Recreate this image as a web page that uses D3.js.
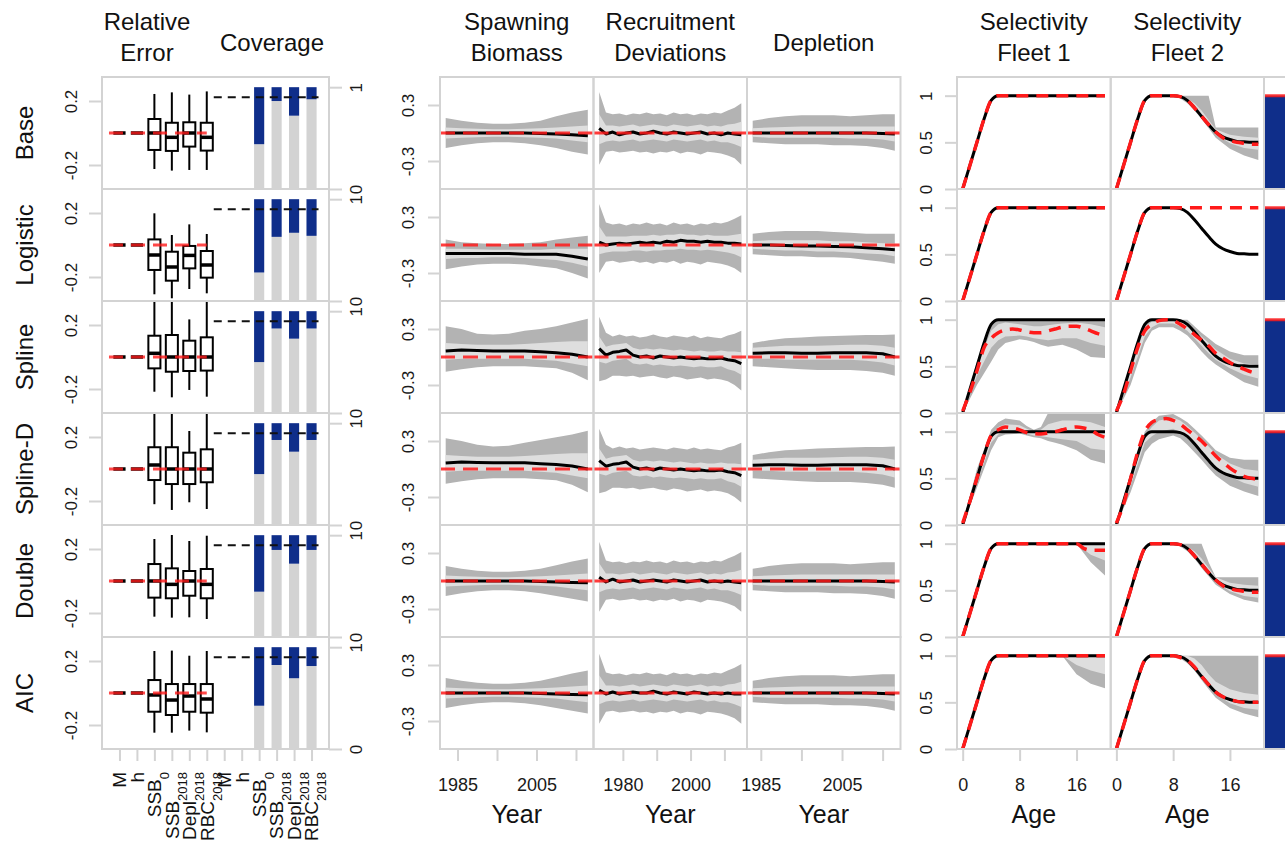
<!DOCTYPE html>
<html>
<head>
<meta charset="utf-8">
<script src="https://cdn.jsdelivr.net/npm/d3@7"></script>
<style>
body { margin: 0; background: #fff; }
svg { display: block; font-family: "Liberation Sans", Arial, sans-serif; }
</style>
</head>
<body>
<div id="chart"></div>
<script>
// ---- data ----
const rowNames = ["Base", "Logistic", "Spline", "Spline-D", "Double", "AIC"];
const catLabels = [["M",""],["h",""],["SSB","0"],["SSB","2018"],["Depl","2018"],["RBC","2018"],
                   ["M",""],["h",""],["SSB","0"],["SSB","2018"],["Depl","2018"],["RBC","2018"]];

// boxplot stats [whiskerLo, q1, median, q3, whiskerHi] for SSB0, SSB2018, Depl2018, RBC2018
const boxStats = [
  [[-0.225,-0.106,0,0.0875,0.244],[-0.235,-0.112,-0.027,0.064,0.254],[-0.231,-0.085,0,0.067,0.24],[-0.231,-0.11,-0.027,0.064,0.26]],
  [[-0.308,-0.156,-0.0625,0.035,0.198],[-0.333,-0.223,-0.1375,-0.042,0.0625],[-0.275,-0.146,-0.065,-0.006,0.129],[-0.302,-0.204,-0.125,-0.0375,0.069]],
  [[-0.217,-0.071,0.023,0.133,0.4],[-0.252,-0.092,0,0.1375,0.4],[-0.206,-0.0875,0,0.102,0.235],[-0.248,-0.085,0,0.123,0.4]],
  [[-0.22,-0.069,0.025,0.136,0.4],[-0.256,-0.094,0,0.136,0.4],[-0.208,-0.094,0,0.102,0.2375],[-0.25,-0.083,0,0.123,0.4]],
  [[-0.223,-0.104,0,0.106,0.2625],[-0.229,-0.108,-0.021,0.079,0.2875],[-0.227,-0.092,0,0.0625,0.25],[-0.2375,-0.108,-0.021,0.075,0.283]],
  [[-0.248,-0.117,-0.0125,0.081,0.2625],[-0.248,-0.1375,-0.044,0.056,0.265],[-0.235,-0.117,-0.019,0.056,0.233],[-0.246,-0.123,-0.0375,0.056,0.2625]]
];
// coverage (grey part) for SSB0, SSB2018, Depl2018, RBC2018
const coverage = [
  [0.44, 0.864, 0.72, 0.881],
  [0.28, 0.63, 0.67, 0.64],
  [0.50, 0.83, 0.73, 0.83],
  [0.50, 0.835, 0.72, 0.835],
  [0.445, 0.855, 0.72, 0.855],
  [0.425, 0.825, 0.695, 0.815]
];
const coverageTarget = 0.9;
const extraCoverage = [1, 1, 1, 1, 1, 1];

// spawning biomass relative error
const ssbYears = [1982, 1986, 1990, 1994, 1998, 2002, 2006, 2010, 2014, 2018];
const ssbMed = [
  [0,0,0,0,0,0,-0.005,-0.01,-0.02,-0.03],
  [-0.09,-0.09,-0.09,-0.09,-0.09,-0.1,-0.1,-0.1,-0.12,-0.15],
  [0.064,0.075,0.07,0.065,0.065,0.065,0.055,0.046,0.03,0.0],
  [0.065,0.075,0.07,0.066,0.066,0.066,0.057,0.048,0.032,0.0],
  [0,0,0,0,0,0,-0.005,-0.01,-0.015,-0.02],
  [0,0,0,0,0,0,-0.005,-0.01,-0.015,-0.02]
];
const ssbHi95 = [
  [0.16,0.13,0.11,0.10,0.10,0.11,0.13,0.18,0.22,0.25],
  [0.06,0.03,0.02,0.01,0.01,0.02,0.03,0.06,0.08,0.1],
  [0.33,0.30,0.25,0.24,0.25,0.28,0.30,0.33,0.37,0.41],
  [0.33,0.30,0.26,0.24,0.25,0.28,0.31,0.34,0.37,0.41],
  [0.16,0.13,0.11,0.10,0.10,0.11,0.13,0.17,0.21,0.24],
  [0.16,0.13,0.11,0.10,0.10,0.11,0.13,0.17,0.21,0.24]
];
const ssbLo95 = [
  [-0.16,-0.13,-0.11,-0.10,-0.10,-0.11,-0.13,-0.16,-0.20,-0.23],
  [-0.26,-0.23,-0.21,-0.2,-0.2,-0.21,-0.23,-0.25,-0.3,-0.36],
  [-0.157,-0.13,-0.11,-0.10,-0.10,-0.10,-0.11,-0.12,-0.17,-0.25],
  [-0.157,-0.13,-0.11,-0.10,-0.10,-0.10,-0.11,-0.12,-0.17,-0.25],
  [-0.16,-0.13,-0.11,-0.10,-0.10,-0.11,-0.13,-0.16,-0.19,-0.22],
  [-0.16,-0.13,-0.11,-0.10,-0.10,-0.11,-0.13,-0.16,-0.19,-0.22]
];
const ssbHi50 = [
  [0.06,0.05,0.045,0.04,0.04,0.045,0.05,0.06,0.07,0.08],
  [-0.04,-0.04,-0.045,-0.05,-0.05,-0.05,-0.05,-0.04,-0.04,-0.04],
  [0.15,0.14,0.13,0.13,0.13,0.14,0.15,0.16,0.17,0.17],
  [0.15,0.14,0.13,0.13,0.13,0.14,0.15,0.16,0.17,0.17],
  [0.06,0.05,0.045,0.04,0.04,0.045,0.05,0.06,0.07,0.08],
  [0.06,0.05,0.045,0.04,0.04,0.045,0.05,0.06,0.07,0.08]
];
const ssbLo50 = [
  [-0.06,-0.05,-0.045,-0.04,-0.04,-0.045,-0.05,-0.06,-0.08,-0.1],
  [-0.15,-0.14,-0.14,-0.13,-0.13,-0.14,-0.15,-0.16,-0.19,-0.23],
  [-0.03,-0.02,-0.02,-0.02,-0.02,-0.02,-0.03,-0.04,-0.07,-0.1],
  [-0.03,-0.02,-0.02,-0.02,-0.02,-0.02,-0.03,-0.04,-0.07,-0.1],
  [-0.06,-0.05,-0.045,-0.04,-0.04,-0.045,-0.05,-0.06,-0.08,-0.1],
  [-0.06,-0.05,-0.045,-0.04,-0.04,-0.045,-0.05,-0.06,-0.08,-0.1]
];

// recruitment deviations
const recYears = [1973,1975,1977,1979,1981,1983,1985,1987,1989,1991,1993,1995,1997,1999,2001,2003,2005,2007,2009,2011,2013,2015];
const recMed = [
  [0.05,-0.01,0.01,-0.02,0.0,0.01,-0.01,0.0,0.02,0.0,-0.01,0.01,0.0,-0.01,0.0,0.01,-0.01,0.0,-0.02,0.0,-0.01,-0.02],
  [0.03,0.0,0.01,0.02,0.01,0.02,0.03,0.02,0.03,0.02,0.04,0.03,0.05,0.04,0.04,0.03,0.04,0.03,0.03,0.02,0.02,0.01],
  [0.09,0.02,0.05,0.06,0.075,0.02,0.0,0.01,-0.01,0.01,0.0,-0.01,0.0,-0.01,-0.02,-0.01,-0.02,-0.02,-0.01,-0.03,-0.04,-0.07],
  [0.09,0.03,0.05,0.06,0.075,0.02,0.0,0.01,-0.01,0.01,0.0,-0.01,0.0,-0.01,-0.02,-0.01,-0.02,-0.02,-0.01,-0.03,-0.04,-0.07],
  [0.04,-0.01,0.02,-0.01,0.0,0.01,-0.01,0.0,0.01,0.0,-0.01,0.01,0.0,-0.01,0.0,0.01,-0.01,0.0,-0.01,0.0,-0.01,-0.02],
  [0.03,-0.01,0.01,-0.01,0.0,0.01,0.0,0.0,0.02,0.0,-0.01,0.01,0.0,-0.01,0.01,0.0,-0.01,0.0,-0.01,0.0,-0.01,-0.01]
];
const recHi95 = [
  [0.44,0.22,0.2,0.21,0.19,0.21,0.2,0.22,0.2,0.21,0.19,0.22,0.2,0.21,0.19,0.21,0.2,0.22,0.21,0.24,0.27,0.32],
  [0.44,0.24,0.22,0.23,0.21,0.23,0.22,0.24,0.22,0.23,0.21,0.24,0.22,0.23,0.21,0.23,0.22,0.24,0.23,0.25,0.28,0.32],
  [0.43,0.26,0.22,0.24,0.22,0.23,0.21,0.22,0.24,0.22,0.21,0.23,0.22,0.21,0.23,0.2,0.22,0.21,0.2,0.23,0.25,0.28],
  [0.43,0.26,0.22,0.24,0.22,0.23,0.21,0.22,0.23,0.22,0.21,0.23,0.22,0.21,0.23,0.21,0.22,0.21,0.2,0.23,0.25,0.28],
  [0.42,0.22,0.2,0.21,0.19,0.21,0.2,0.22,0.2,0.21,0.19,0.22,0.2,0.21,0.19,0.21,0.2,0.22,0.21,0.24,0.27,0.31],
  [0.42,0.22,0.2,0.21,0.19,0.21,0.2,0.22,0.2,0.21,0.19,0.22,0.2,0.21,0.19,0.21,0.2,0.22,0.21,0.24,0.27,0.31]
];
const recLo95 = [
  [-0.34,-0.2,-0.19,-0.21,-0.2,-0.19,-0.21,-0.2,-0.22,-0.2,-0.21,-0.19,-0.22,-0.2,-0.21,-0.23,-0.2,-0.21,-0.22,-0.24,-0.27,-0.34],
  [-0.3,-0.18,-0.17,-0.19,-0.18,-0.17,-0.19,-0.18,-0.2,-0.18,-0.19,-0.17,-0.2,-0.18,-0.19,-0.21,-0.18,-0.19,-0.2,-0.22,-0.25,-0.3],
  [-0.26,-0.24,-0.2,-0.2,-0.21,-0.2,-0.22,-0.21,-0.2,-0.22,-0.23,-0.21,-0.22,-0.24,-0.23,-0.22,-0.24,-0.23,-0.24,-0.26,-0.3,-0.36],
  [-0.26,-0.24,-0.2,-0.2,-0.21,-0.2,-0.22,-0.21,-0.2,-0.22,-0.23,-0.21,-0.22,-0.24,-0.23,-0.22,-0.24,-0.23,-0.24,-0.26,-0.3,-0.36],
  [-0.33,-0.2,-0.19,-0.21,-0.2,-0.19,-0.21,-0.2,-0.22,-0.2,-0.21,-0.19,-0.22,-0.2,-0.21,-0.23,-0.2,-0.21,-0.22,-0.24,-0.27,-0.33],
  [-0.33,-0.2,-0.19,-0.21,-0.2,-0.19,-0.21,-0.2,-0.22,-0.2,-0.21,-0.19,-0.22,-0.2,-0.21,-0.23,-0.2,-0.21,-0.22,-0.24,-0.27,-0.33]
];
const recHi50 = [
  [0.2,0.08,0.08,0.07,0.08,0.09,0.07,0.08,0.09,0.08,0.07,0.09,0.08,0.07,0.08,0.09,0.07,0.08,0.07,0.09,0.1,0.12],
  [0.2,0.09,0.09,0.09,0.09,0.1,0.1,0.1,0.11,0.1,0.11,0.11,0.12,0.11,0.11,0.1,0.11,0.1,0.1,0.1,0.11,0.12],
  [0.22,0.11,0.13,0.14,0.15,0.1,0.08,0.09,0.08,0.09,0.08,0.07,0.08,0.07,0.06,0.07,0.06,0.06,0.07,0.06,0.06,0.05],
  [0.22,0.11,0.13,0.14,0.15,0.1,0.08,0.09,0.08,0.09,0.08,0.07,0.08,0.07,0.06,0.07,0.06,0.06,0.07,0.06,0.06,0.05],
  [0.19,0.08,0.08,0.07,0.08,0.09,0.07,0.08,0.09,0.08,0.07,0.09,0.08,0.07,0.08,0.09,0.07,0.08,0.07,0.09,0.1,0.12],
  [0.19,0.08,0.08,0.07,0.08,0.09,0.07,0.08,0.09,0.08,0.07,0.09,0.08,0.07,0.08,0.09,0.07,0.08,0.07,0.09,0.1,0.12]
];
const recLo50 = [
  [-0.12,-0.09,-0.08,-0.09,-0.08,-0.07,-0.09,-0.08,-0.07,-0.08,-0.09,-0.07,-0.08,-0.09,-0.08,-0.07,-0.09,-0.08,-0.1,-0.1,-0.12,-0.15],
  [-0.1,-0.08,-0.07,-0.07,-0.07,-0.06,-0.06,-0.07,-0.06,-0.06,-0.05,-0.05,-0.04,-0.05,-0.05,-0.06,-0.05,-0.06,-0.07,-0.08,-0.1,-0.13],
  [-0.05,-0.07,-0.04,-0.03,-0.02,-0.07,-0.08,-0.07,-0.09,-0.08,-0.09,-0.1,-0.09,-0.1,-0.11,-0.1,-0.11,-0.11,-0.1,-0.13,-0.15,-0.19],
  [-0.05,-0.07,-0.04,-0.03,-0.02,-0.07,-0.08,-0.07,-0.09,-0.08,-0.09,-0.1,-0.09,-0.1,-0.11,-0.1,-0.11,-0.11,-0.1,-0.13,-0.15,-0.19],
  [-0.12,-0.09,-0.08,-0.09,-0.08,-0.07,-0.09,-0.08,-0.07,-0.08,-0.09,-0.07,-0.08,-0.09,-0.08,-0.07,-0.09,-0.08,-0.1,-0.1,-0.12,-0.15],
  [-0.12,-0.09,-0.08,-0.09,-0.08,-0.07,-0.09,-0.08,-0.07,-0.08,-0.09,-0.07,-0.08,-0.09,-0.08,-0.07,-0.09,-0.08,-0.1,-0.1,-0.12,-0.15]
];

// depletion
const deplYears = [1983, 1987, 1991, 1995, 1999, 2003, 2007, 2011, 2015, 2018];
const deplMed = [
  [0,0,0,0,0,0,0,0,-0.005,-0.01],
  [0,0,-0.005,-0.01,-0.01,-0.015,-0.02,-0.03,-0.04,-0.05],
  [0.04,0.045,0.045,0.04,0.04,0.045,0.045,0.046,0.035,0.0],
  [0.04,0.045,0.045,0.04,0.04,0.045,0.045,0.046,0.035,0.0],
  [0,0,0,0,0,0,0,0,-0.005,-0.01],
  [0,0,0,0,0,0,0,0,-0.005,-0.01]
];
const deplHi95 = [
  [0.13,0.16,0.18,0.19,0.19,0.19,0.18,0.19,0.2,0.2],
  [0.12,0.14,0.15,0.15,0.15,0.14,0.13,0.12,0.12,0.12],
  [0.15,0.18,0.2,0.21,0.22,0.225,0.23,0.235,0.235,0.24],
  [0.15,0.18,0.2,0.21,0.22,0.225,0.23,0.235,0.235,0.24],
  [0.13,0.16,0.18,0.19,0.19,0.19,0.18,0.19,0.2,0.2],
  [0.13,0.16,0.18,0.19,0.19,0.19,0.18,0.19,0.2,0.2]
];
const deplLo95 = [
  [-0.1,-0.11,-0.12,-0.12,-0.12,-0.13,-0.13,-0.14,-0.16,-0.19],
  [-0.1,-0.11,-0.12,-0.12,-0.13,-0.13,-0.14,-0.16,-0.18,-0.2],
  [-0.1,-0.11,-0.12,-0.13,-0.14,-0.14,-0.14,-0.15,-0.17,-0.2],
  [-0.1,-0.11,-0.12,-0.13,-0.14,-0.14,-0.14,-0.15,-0.17,-0.2],
  [-0.1,-0.11,-0.12,-0.12,-0.12,-0.13,-0.13,-0.14,-0.16,-0.19],
  [-0.1,-0.11,-0.12,-0.12,-0.12,-0.13,-0.13,-0.14,-0.16,-0.19]
];
const deplHi50 = [
  [0.05,0.06,0.065,0.07,0.07,0.07,0.07,0.07,0.07,0.07],
  [0.04,0.05,0.05,0.05,0.05,0.04,0.04,0.03,0.02,0.02],
  [0.1,0.11,0.12,0.12,0.12,0.125,0.13,0.13,0.12,0.1],
  [0.1,0.11,0.12,0.12,0.12,0.125,0.13,0.13,0.12,0.1],
  [0.05,0.06,0.065,0.07,0.07,0.07,0.07,0.07,0.07,0.07],
  [0.05,0.06,0.065,0.07,0.07,0.07,0.07,0.07,0.07,0.07]
];
const deplLo50 = [
  [-0.04,-0.05,-0.05,-0.05,-0.05,-0.05,-0.06,-0.06,-0.07,-0.09],
  [-0.04,-0.05,-0.06,-0.06,-0.07,-0.07,-0.08,-0.09,-0.1,-0.12],
  [-0.02,-0.02,-0.03,-0.03,-0.03,-0.03,-0.03,-0.04,-0.06,-0.09],
  [-0.02,-0.02,-0.03,-0.03,-0.03,-0.03,-0.03,-0.04,-0.06,-0.09],
  [-0.04,-0.05,-0.05,-0.05,-0.05,-0.05,-0.06,-0.06,-0.07,-0.09],
  [-0.04,-0.05,-0.05,-0.05,-0.05,-0.05,-0.06,-0.06,-0.07,-0.09]
];

// selectivity
const ages = [0,1,2,3,4,5,6,7,8,9,10,11,12,13,14,15,16,17,18,19,20];
const sel1True = [0,0.25,0.5,0.75,0.95,1,1,1,1,1,1,1,1,1,1,1,1,1,1,1,1];
const sel2True = [0,0.25,0.5,0.75,0.95,1,1,1,1,0.99,0.95,0.87,0.78,0.69,0.61,0.56,0.53,0.51,0.505,0.5,0.5];
const sel1Med = [
  [0,0.25,0.5,0.75,0.95,1,1,1,1,1,1,1,1,1,1,1,1,1,1,1,1],
  [0,0.25,0.5,0.75,0.95,1,1,1,1,1,1,1,1,1,1,1,1,1,1,1,1],
  [0.02,0.22,0.45,0.7,0.8,0.86,0.89,0.9,0.89,0.87,0.86,0.86,0.88,0.9,0.92,0.93,0.93,0.91,0.88,0.85,0.83],
  [0.02,0.25,0.5,0.75,0.96,1.02,1.05,1.04,1.02,0.99,0.98,0.975,0.985,1.0,1.02,1.04,1.05,1.04,1.02,0.97,0.94],
  [0,0.25,0.5,0.75,0.95,1,1,1,1,1,1,1,1,1,1,1,1,0.95,0.93,0.93,0.93],
  [0,0.25,0.5,0.75,0.95,1,1,1,1,1,1,1,1,1,1,1,1,1,1,1,1]
];
const sel2Med = [
  [0,0.25,0.5,0.75,0.95,1,1,1,1,0.99,0.95,0.87,0.78,0.69,0.61,0.55,0.52,0.5,0.49,0.48,0.48],
  [0,0.25,0.5,0.75,0.95,1,1,1,1,1,1,1,1,1,1,1,1,1,1,1,1],
  [0.02,0.2,0.45,0.7,0.88,0.95,0.99,1.0,0.99,0.95,0.9,0.84,0.78,0.72,0.64,0.59,0.54,0.5,0.47,0.44,0.42],
  [0.02,0.22,0.5,0.78,1.0,1.1,1.13,1.14,1.12,1.08,1.02,0.96,0.9,0.82,0.74,0.67,0.61,0.56,0.52,0.5,0.49],
  [0,0.25,0.5,0.75,0.95,1,1,1,1,0.99,0.95,0.87,0.78,0.69,0.61,0.55,0.52,0.5,0.49,0.48,0.48],
  [0,0.25,0.5,0.75,0.95,1,1,1,1,0.98,0.95,0.88,0.78,0.69,0.61,0.56,0.53,0.51,0.5,0.5,0.5]
];
// interval bands on a coarser age grid
const bandAges = [0,2,4,5,6,8,9,10,11,12,13,14,16,18,20];
const sel1Hi95 = [
  [0,0.5,0.96,1,1,1,1,1,1,1,1,1,1,1,1],
  [0,0.5,0.96,1,1,1,1,1,1,1,1,1,1,1,1],
  [0.02,0.55,0.95,1,1,1,1,1,1,1,1,1,1,1,1],
  [0.02,0.6,1.02,1.1,1.14,1.12,1.06,1.02,1.05,1.2,1.2,1.2,1.2,1.2,1.2],
  [0,0.5,0.96,1,1,1,1,1,1,1,1,1,1,1,1],
  [0,0.5,0.96,1,1,1,1,1,1,1,1,1,1,1,1]
];
const sel1Lo95 = [
  [0,0.5,0.93,1,1,1,1,1,1,1,1,1,1,1,1],
  [0,0.5,0.93,1,1,1,1,1,1,1,1,1,1,1,1],
  [0,0.3,0.55,0.68,0.75,0.79,0.78,0.76,0.73,0.71,0.72,0.73,0.68,0.6,0.59],
  [0,0.4,0.8,0.94,0.97,0.98,0.96,0.94,0.93,0.9,0.88,0.86,0.8,0.7,0.66],
  [0,0.5,0.93,1,1,1,1,1,1,1,1,1,1,0.8,0.66],
  [0,0.5,0.93,1,1,1,1,1,1,1,1,1,0.8,0.7,0.65]
];
const sel1Hi50 = [
  [0,0.5,0.95,1,1,1,1,1,1,1,1,1,1,1,1],
  [0,0.5,0.95,1,1,1,1,1,1,1,1,1,1,1,1],
  [0.01,0.5,0.88,0.95,0.97,0.95,0.94,0.93,0.93,0.94,0.95,0.96,0.97,0.95,0.92],
  [0.01,0.55,0.97,1.05,1.08,1.07,1.03,1.0,1.02,1.08,1.1,1.12,1.12,1.1,1.05],
  [0,0.5,0.95,1,1,1,1,1,1,1,1,1,1,1,1],
  [0,0.5,0.95,1,1,1,1,1,1,1,1,1,1,1,1]
];
const sel1Lo50 = [
  [0,0.5,0.95,1,1,1,1,1,1,1,1,1,1,1,1],
  [0,0.5,0.95,1,1,1,1,1,1,1,1,1,1,1,1],
  [0,0.4,0.7,0.78,0.82,0.83,0.82,0.8,0.79,0.78,0.79,0.8,0.8,0.75,0.72],
  [0,0.45,0.88,0.97,1.0,1.0,0.98,0.96,0.95,0.94,0.93,0.92,0.9,0.82,0.8],
  [0,0.5,0.95,1,1,1,1,1,1,1,1,1,1,0.88,0.82],
  [0,0.5,0.95,1,1,1,1,1,1,1,1,1,0.9,0.84,0.8]
];
const sel2Hi95 = [
  [0,0.5,0.96,1,1,1,1,1,1,1,1,0.66,0.66,0.66,0.66],
  [0,0.5,0.96,1,1,1,1,1,1,1,1,1,1,1,1],
  [0.02,0.5,0.95,1,1,1,1,1,0.93,0.86,0.8,0.74,0.66,0.62,0.62],
  [0.02,0.55,1.0,1.1,1.17,1.19,1.15,1.1,1.03,0.96,0.88,0.8,0.72,0.7,0.7],
  [0,0.5,0.96,1,1,1,1,1,1,1,0.8,0.64,0.64,0.64,0.64],
  [0,0.5,0.96,1,1,1,1,1,1,1,1,1,1,1,1]
];
const sel2Lo95 = [
  [0,0.5,0.93,1,1,1,0.97,0.92,0.84,0.75,0.65,0.55,0.43,0.36,0.31],
  [0,0.5,0.93,1,1,1,1,1,1,1,1,1,1,1,1],
  [0,0.3,0.75,0.88,0.92,0.92,0.88,0.83,0.75,0.66,0.58,0.52,0.42,0.33,0.28],
  [0,0.35,0.78,0.87,0.92,0.96,0.93,0.86,0.78,0.7,0.61,0.53,0.42,0.36,0.31],
  [0,0.5,0.93,1,1,1,0.97,0.92,0.84,0.74,0.65,0.56,0.46,0.4,0.37],
  [0,0.5,0.93,1,1,1,0.97,0.92,0.84,0.74,0.64,0.55,0.44,0.38,0.34]
];
const sel2Hi50 = [
  [0,0.5,0.95,1,1,1,1,0.97,0.92,0.84,0.74,0.64,0.58,0.56,0.55],
  [0,0.5,0.95,1,1,1,1,1,1,1,1,1,1,1,1],
  [0.01,0.45,0.92,0.98,1,1,0.99,0.95,0.89,0.82,0.75,0.68,0.58,0.53,0.52],
  [0.01,0.5,0.95,1.05,1.12,1.15,1.12,1.06,0.99,0.92,0.84,0.76,0.66,0.6,0.58],
  [0,0.5,0.95,1,1,1,1,0.97,0.92,0.84,0.74,0.64,0.58,0.56,0.55],
  [0,0.5,0.95,1,1,1,1,1,0.97,0.9,0.8,0.72,0.64,0.6,0.58]
];
const sel2Lo50 = [
  [0,0.5,0.95,1,1,1,0.98,0.94,0.87,0.78,0.69,0.59,0.49,0.44,0.42],
  [0,0.5,0.95,1,1,1,1,1,1,1,1,1,1,1,1],
  [0,0.38,0.82,0.92,0.96,0.96,0.93,0.88,0.8,0.72,0.64,0.57,0.48,0.41,0.37],
  [0,0.42,0.88,0.95,1.0,1.03,0.99,0.93,0.86,0.78,0.7,0.62,0.52,0.45,0.41],
  [0,0.5,0.95,1,1,1,0.98,0.94,0.87,0.78,0.69,0.59,0.49,0.44,0.42],
  [0,0.5,0.95,1,1,1,0.98,0.94,0.87,0.78,0.69,0.59,0.49,0.44,0.42]
];

// ---- layout ----
const W = 1285, H = 847;
const top0 = 77, rowH = 112, nRows = 6;
const bottom = top0 + rowH * nRows;
const frameCol = "#d3d3d3";
const darkBand = "#b3b3b3", lightBand = "#dedede";
const blue = "#0f2e8a", red = "#ff1a1a";
const leftX = [102, 329];
const midX = [440, 593.5, 747, 900.5];
const rightX = [957, 1110.7, 1264, 1417.3];

const svg = d3.select("#chart").append("svg").attr("width", W).attr("height", H);
svg.append("rect").attr("width", W).attr("height", H).attr("fill", "#fff");
const defs = svg.append("defs");
let clipN = 0;

function makePanel(x0, x1, y0, y1) {
  const id = "clip" + (clipN++);
  defs.append("clipPath").attr("id", id)
    .append("rect").attr("x", x0).attr("y", y0).attr("width", x1 - x0).attr("height", y1 - y0);
  const g = svg.append("g");
  const inner = g.append("g").attr("clip-path", `url(#${id})`);
  g.append("rect")
    .attr("x", x0).attr("y", y0).attr("width", x1 - x0).attr("height", y1 - y0)
    .attr("fill", "none").attr("stroke", frameCol).attr("stroke-width", 2);
  return inner;
}

function styleAxis(ax, size) {
  ax.select(".domain").remove();
  ax.attr("font-family", null).attr("font-size", size);
  ax.selectAll(".tick line").attr("stroke", frameCol).attr("stroke-width", 2);
  ax.selectAll(".tick text").attr("fill", "#1a1a1a");
}

function rotateTicks(ax, d) {
  ax.selectAll(".tick text")
    .attr("transform", "rotate(-90)")
    .attr("x", 0).attr("y", d).attr("dy", 0)
    .attr("text-anchor", "middle");
}

const catX = d3.scaleLinear().domain([0, 13]).range(leftX);
const ageX = [0, 1].map(i => d3.scaleLinear().domain([-0.8, 20.8]).range([rightX[i], rightX[i + 1]]));
const yearX = [
  d3.scaleLinear().domain([1980.56, 2019.44]).range([midX[0], midX[1]]),
  d3.scaleLinear().domain([1971.32, 2016.68]).range([midX[1], midX[2]]),
  d3.scaleLinear().domain([1981.6, 2019.4]).range([midX[2], midX[3]])
];
const midSeries = [
  { years: ssbYears, med: ssbMed, hi95: ssbHi95, lo95: ssbLo95, hi50: ssbHi50, lo50: ssbLo50 },
  { years: recYears, med: recMed, hi95: recHi95, lo95: recLo95, hi50: recHi50, lo50: recLo50 },
  { years: deplYears, med: deplMed, hi95: deplHi95, lo95: deplLo95, hi50: deplHi50, lo50: deplLo50 }
];
const selSeries = [
  { truth: sel1True, med: sel1Med, hi95: sel1Hi95, lo95: sel1Lo95, hi50: sel1Hi50, lo50: sel1Lo50 },
  { truth: sel2True, med: sel2Med, hi95: sel2Hi95, lo95: sel2Lo95, hi50: sel2Hi50, lo50: sel2Lo50 }
];

rowNames.forEach((name, r) => {
  const y0 = top0 + r * rowH, y1 = y0 + rowH;

  // ---- left group: relative error boxplots + coverage ----
  const relY = d3.scaleLinear().domain([-0.35, 0.35]).range([y1, y0]);
  const covY = d3.scaleLinear().domain([0, 1.1]).range([y1, y0]);
  const gl = makePanel(leftX[0], leftX[1], y0, y1);

  // coverage bars
  coverage[r].forEach((c, i) => {
    const cx = catX(9 + i), hw = catX(0.29) - catX(0);
    gl.append("rect").attr("x", cx - hw).attr("width", 2 * hw)
      .attr("y", covY(c)).attr("height", covY(0) - covY(c)).attr("fill", "#d3d3d3");
    gl.append("rect").attr("x", cx - hw).attr("width", 2 * hw)
      .attr("y", covY(1)).attr("height", covY(c) - covY(1)).attr("fill", blue);
  });
  gl.append("line")
    .attr("x1", catX(6.4)).attr("x2", catX(12.4))
    .attr("y1", covY(coverageTarget)).attr("y2", covY(coverageTarget))
    .attr("stroke", "#111").attr("stroke-width", 2).attr("stroke-dasharray", "8,6");

  // M and h are fixed: zero-width boxes
  [1, 2].forEach(c => {
    gl.append("line")
      .attr("x1", catX(c - 0.35)).attr("x2", catX(c + 0.35))
      .attr("y1", relY(0)).attr("y2", relY(0))
      .attr("stroke", "#000").attr("stroke-width", 3.5);
  });
  // boxplots
  boxStats[r].forEach((s, i) => {
    const cx = catX(3 + i), hw = catX(0.345) - catX(0);
    gl.append("line").attr("x1", cx).attr("x2", cx).attr("y1", relY(s[0])).attr("y2", relY(s[4]))
      .attr("stroke", "#000").attr("stroke-width", 2);
    gl.append("rect").attr("x", cx - hw).attr("width", 2 * hw)
      .attr("y", relY(s[3])).attr("height", relY(s[1]) - relY(s[3]))
      .attr("fill", "#fff").attr("stroke", "#000").attr("stroke-width", 2);
    gl.append("line").attr("x1", cx - hw).attr("x2", cx + hw).attr("y1", relY(s[2])).attr("y2", relY(s[2]))
      .attr("stroke", "#000").attr("stroke-width", 3.5);
  });
  gl.append("line")
    .attr("x1", catX(0.4)).attr("x2", catX(6.0)).attr("y1", relY(0)).attr("y2", relY(0))
    .attr("stroke", red).attr("stroke-opacity", 0.8).attr("stroke-width", 3).attr("stroke-dasharray", "14,8");

  const axL = svg.append("g").attr("transform", `translate(${leftX[0]},0)`)
    .call(d3.axisLeft(relY).tickValues([-0.2, 0.2]).tickFormat(String).tickSize(13));
  styleAxis(axL, 17); rotateTicks(axL, -25);
  const axR = svg.append("g").attr("transform", `translate(${leftX[1]},0)`)
    .call(d3.axisRight(covY).tickValues([0, 1]).tickFormat(String).tickSize(13));
  styleAxis(axR, 17); rotateTicks(axR, 33);

  // row label
  svg.append("text")
    .attr("transform", `translate(33,${(y0 + y1) / 2}) rotate(-90)`)
    .attr("text-anchor", "middle").attr("font-size", 24).attr("fill", "#111")
    .text(name);

  // ---- middle group ----
  const midY = d3.scaleLinear().domain([-0.6, 0.6]).range([y1, y0]);
  midSeries.forEach((s, k) => {
    const xs = yearX[k];
    const g = makePanel(midX[k], midX[k + 1], y0, y1);
    const pts = s.years.map((yr, i) => i);
    g.append("path").datum(pts)
      .attr("d", d3.area().x(i => xs(s.years[i])).y0(i => midY(s.lo95[r][i])).y1(i => midY(s.hi95[r][i])))
      .attr("fill", darkBand);
    g.append("path").datum(pts)
      .attr("d", d3.area().x(i => xs(s.years[i])).y0(i => midY(s.lo50[r][i])).y1(i => midY(s.hi50[r][i])))
      .attr("fill", lightBand);
    g.append("path").datum(pts)
      .attr("d", d3.line().x(i => xs(s.years[i])).y(i => midY(s.med[r][i])))
      .attr("fill", "none").attr("stroke", "#000").attr("stroke-width", 3).attr("stroke-linejoin", "round");
    g.append("line")
      .attr("x1", midX[k]).attr("x2", midX[k + 1]).attr("y1", midY(0)).attr("y2", midY(0))
      .attr("stroke", red).attr("stroke-opacity", 0.85).attr("stroke-width", 3).attr("stroke-dasharray", "15,8");
  });
  const axM = svg.append("g").attr("transform", `translate(${midX[0]},0)`)
    .call(d3.axisLeft(midY).tickValues([-0.3, 0.3]).tickFormat(String).tickSize(12));
  styleAxis(axM, 17); rotateTicks(axM, -26);

  // ---- right group: selectivity ----
  const selY = d3.scaleLinear().domain([0, 1.2]).range([y1, y0]);
  selSeries.forEach((s, k) => {
    const xs = ageX[k];
    const g = makePanel(rightX[k], rightX[k + 1], y0, y1);
    const bp = bandAges.map((a, i) => i);
    g.append("path").datum(bp)
      .attr("d", d3.area().x(i => xs(bandAges[i])).y0(i => selY(s.lo95[r][i])).y1(i => selY(s.hi95[r][i])))
      .attr("fill", darkBand);
    g.append("path").datum(bp)
      .attr("d", d3.area().x(i => xs(bandAges[i])).y0(i => selY(s.lo50[r][i])).y1(i => selY(s.hi50[r][i])))
      .attr("fill", lightBand);
    const ap = ages.map((a, i) => i);
    g.append("path").datum(ap)
      .attr("d", d3.line().curve(d3.curveMonotoneX).x(i => xs(ages[i])).y(i => selY(s.truth[i])))
      .attr("fill", "none").attr("stroke", "#000").attr("stroke-width", 3);
    g.append("path").datum(ap)
      .attr("d", d3.line().curve(d3.curveMonotoneX).x(i => xs(ages[i])).y(i => selY(s.med[r][i])))
      .attr("fill", "none").attr("stroke", red).attr("stroke-width", 3.5).attr("stroke-dasharray", "12,8");
  });
  // third (cut off) column
  const g3 = makePanel(rightX[2], rightX[3], y0, y1);
  g3.append("rect").attr("x", rightX[2] + 1).attr("width", rightX[3] - rightX[2])
    .attr("y", selY(extraCoverage[r])).attr("height", selY(0) - selY(extraCoverage[r]))
    .attr("fill", blue);
  g3.append("line").attr("x1", rightX[2]).attr("x2", rightX[3])
    .attr("y1", selY(1)).attr("y2", selY(1))
    .attr("stroke", red).attr("stroke-opacity", 0.85).attr("stroke-width", 3);

  const axS = svg.append("g").attr("transform", `translate(${rightX[0]},0)`)
    .call(d3.axisLeft(selY).tickValues([0, 0.5, 1]).tickFormat(String).tickSize(12));
  styleAxis(axS, 17); rotateTicks(axS, -25);
});

// ---- bottom axes ----
const axB = svg.append("g").attr("transform", `translate(0,${bottom})`)
  .call(d3.axisBottom(catX).tickValues(d3.range(1, 13)).tickFormat("").tickSize(12));
styleAxis(axB, 19);
catLabels.forEach((lab, i) => {
  const t = svg.append("text")
    .attr("transform", `translate(${catX(i + 1)},772) rotate(-90)`)
    .attr("text-anchor", "end").attr("dy", "0.36em").attr("font-size", 19).attr("fill", "#111");
  t.append("tspan").text(lab[0]);
  if (lab[1]) t.append("tspan").attr("baseline-shift", "sub").attr("font-size", 13).text(lab[1]);
});

const yearTicks = [[1985, 1995, 2005, 2015], [1980, 1990, 2000, 2010], [1985, 1995, 2005, 2015]];
const yearLabels = [[1985, 2005], [1980, 2000], [1985, 2005]];
yearX.forEach((xs, k) => {
  const ax = svg.append("g").attr("transform", `translate(0,${bottom})`)
    .call(d3.axisBottom(xs).tickValues(yearTicks[k]).tickSize(12).tickPadding(17)
      .tickFormat(d => yearLabels[k].includes(d) ? String(d) : ""));
  styleAxis(ax, 18);
  svg.append("text").attr("x", (midX[k] + midX[k + 1]) / 2).attr("y", 823)
    .attr("text-anchor", "middle").attr("font-size", 25).attr("fill", "#111").text("Year");
});
ageX.forEach((xs, k) => {
  const ax = svg.append("g").attr("transform", `translate(0,${bottom})`)
    .call(d3.axisBottom(xs).tickValues([0, 8, 16]).tickFormat(String).tickSize(12).tickPadding(17));
  styleAxis(ax, 18);
  svg.append("text").attr("x", (rightX[k] + rightX[k + 1]) / 2).attr("y", 823)
    .attr("text-anchor", "middle").attr("font-size", 25).attr("fill", "#111").text("Age");
});

// ---- column titles ----
const titles = [
  { x: 147, lines: ["Relative", "Error"] },
  { x: 272, lines: ["Coverage"] },
  { x: (midX[0] + midX[1]) / 2, lines: ["Spawning", "Biomass"] },
  { x: (midX[1] + midX[2]) / 2, lines: ["Recruitment", "Deviations"] },
  { x: (midX[2] + midX[3]) / 2, lines: ["Depletion"] },
  { x: (rightX[0] + rightX[1]) / 2, lines: ["Selectivity", "Fleet 1"] },
  { x: (rightX[1] + rightX[2]) / 2, lines: ["Selectivity", "Fleet 2"] }
];
titles.forEach(t => {
  const ys = t.lines.length === 2 ? [30, 61] : [51];
  t.lines.forEach((ln, i) => {
    svg.append("text").attr("x", t.x).attr("y", ys[i])
      .attr("text-anchor", "middle").attr("font-size", 24).attr("fill", "#111").text(ln);
  });
});
</script>
</body>
</html>
